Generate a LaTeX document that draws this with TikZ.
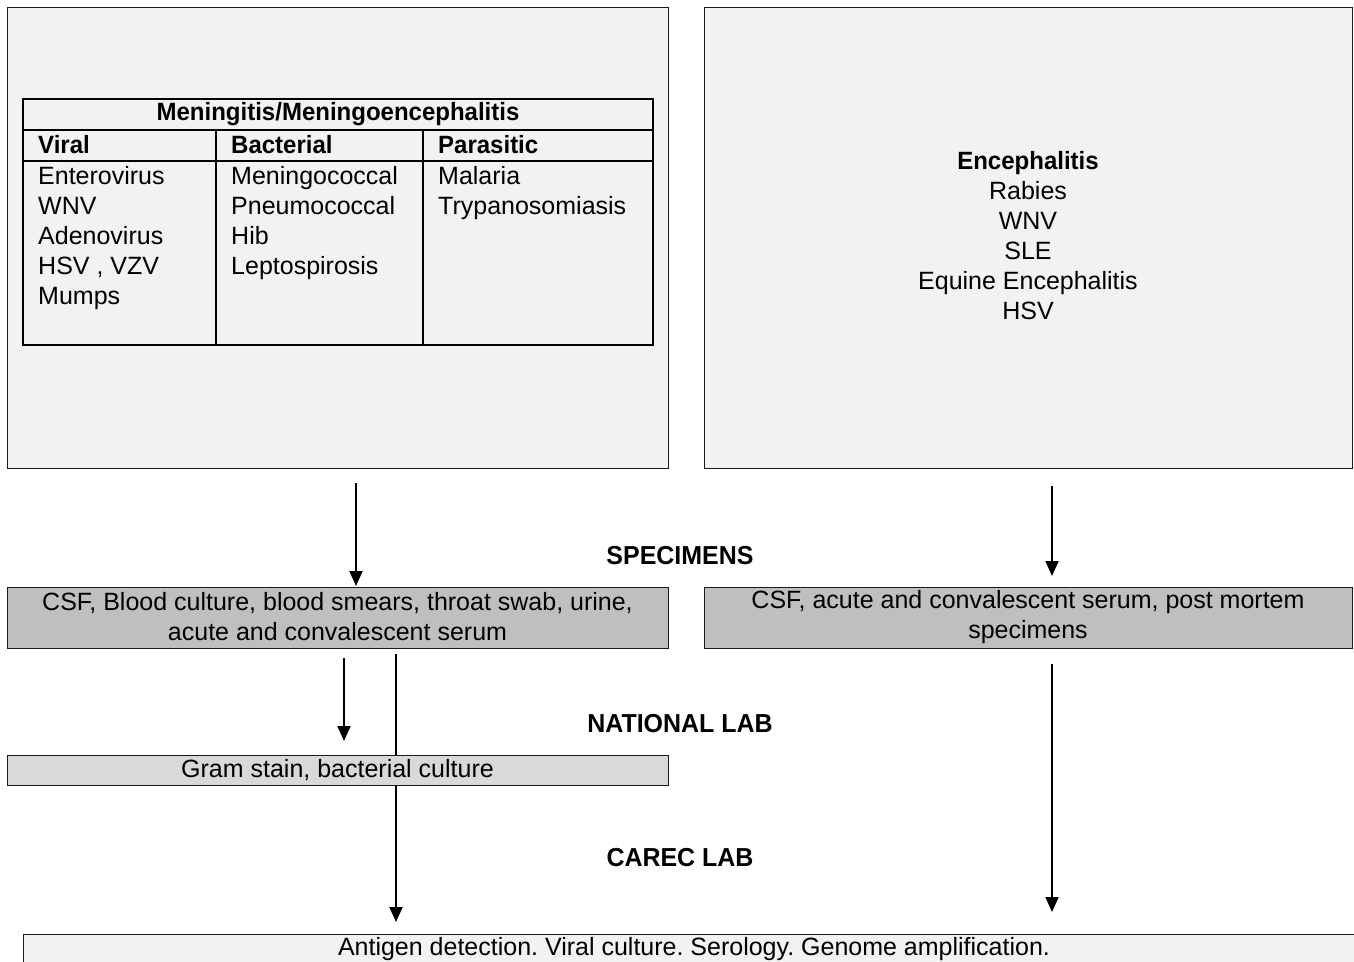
\documentclass[tikz,border=0pt]{standalone}
\usepackage{fontspec}
\setmainfont{Liberation Sans}[BoldFeatures={FakeStretch=0.96}]
\frenchspacing
\usetikzlibrary{arrows.meta}
\definecolor{panelfill}{HTML}{F2F2F2}
\definecolor{specfill}{HTML}{BFBFBF}
\definecolor{natfill}{HTML}{D9D9D9}
\definecolor{edge}{HTML}{1A1A1A}

\begin{document}
\begin{tikzpicture}[x=1pt,y=-1pt,
  panel/.style={draw=edge, line width=1pt, inner sep=0pt, anchor=north west},
  body/.style={font=\fontsize{25}{30}\selectfont, inner sep=0pt},
  head/.style={font=\fontsize{25}{30}\selectfont\bfseries, inner sep=0pt},
  stage/.style={font=\fontsize{26}{30}\selectfont\bfseries, inner sep=0pt},
  cell/.style={body, align=left},
  grid/.style={line width=2pt, black},
  arr/.style={line width=2pt, -{Triangle[width=13pt,length=15pt]}}]

\useasboundingbox (0,0) rectangle (1354,961);
\clip (0,0) rectangle (1354,961);
\fill[white] (0,0) rectangle (1354,961);

% ---- upper panels ----
\node[panel, fill=panelfill, minimum width=661pt, minimum height=461pt] (menbox) at (7,7) {};
\node[panel, fill=panelfill, minimum width=648pt, minimum height=461pt] (encbox) at (704,7) {};

% table of meningitis agents
\draw[grid] (23,99) rectangle (653,345);
\draw[grid] (23,130) -- (653,130);
\draw[grid] (23,161) -- (653,161);
\draw[grid] (216,130) -- (216,345);
\draw[grid] (423,130) -- (423,345);

\node[head] (ttl) at (338,114) {Meningitis/Meningoencephalitis};
\node[head, anchor=west] (hv) at (38,145) {Viral};
\node[head, anchor=west] (hb) at (231,145) {Bacterial};
\node[head, anchor=west] (hp) at (438,145) {Parasitic};

\node[cell, anchor=north west] (colv) at (38,166) {Enterovirus\\WNV\\Adenovirus\\HSV , VZV\\Mumps};
\node[cell, anchor=north west] (colb) at (231,166) {Meningococcal\\Pneumococcal\\Hib\\Leptospirosis};
\node[cell, anchor=north west] (colp) at (438,166) {Malaria\\Trypanosomiasis};

% encephalitis list
\node[body, align=center] (enc) at (1028,236)
  {\textbf{Encephalitis}\\Rabies\\WNV\\SLE\\Equine Encephalitis\\HSV};

% ---- stage labels ----
\node[stage] (lspec) at (680,556) {SPECIMENS};
\node[stage] (lnat) at (680,724) {NATIONAL LAB};
\node[stage] (lcarec) at (680,858) {CAREC LAB};

% ---- specimen boxes ----
\node[panel, fill=specfill, minimum width=661pt, minimum height=61pt] (specL) at (7,587) {};
\node[body, align=center] (specLt) at (337.5,617) {CSF, Blood culture, blood smears, throat swab, urine,\\acute and convalescent serum};
\node[panel, fill=specfill, minimum width=648pt, minimum height=61pt] (specR) at (704,587) {};
\node[body, align=center] (specRt) at (1028,617) {CSF, acute and convalescent serum, post mortem\\specimens};

% ---- result box ----
\node[panel, fill=panelfill, minimum width=1342pt, minimum height=40pt] (res) at (23,934) {};
\node[body] (rest) at (694,949) {Antigen detection. Viral culture. Serology. Genome amplification.};

% column positions of the connectors
\coordinate (c1) at (356,0);
\coordinate (c2) at (1052,0);
\coordinate (c3) at (344,0);
\coordinate (c4) at (396,0);

% long connector runs under the national lab box
\draw[arr, shorten <=5pt, shorten >=12pt] (specL.south -| c4) -- (res.north -| c4);

% ---- national lab box ----
\node[panel, fill=natfill, minimum width=661pt, minimum height=30pt] (nat) at (7,755) {};
\node[body] (natt) at (337.5,770) {Gram stain, bacterial culture};

% ---- connectors ----
\draw[arr, shorten <=14pt, shorten >=1pt] (menbox.south -| c1) -- (specL.north -| c1);
\draw[arr, shorten <=17pt, shorten >=11pt] (encbox.south -| c2) -- (specR.north -| c2);
\draw[arr, shorten <=9pt, shorten >=14pt] (specL.south -| c3) -- (nat.north -| c3);
\draw[arr, shorten <=15pt, shorten >=22pt] (specR.south -| c2) -- (res.north -| c2);

\end{tikzpicture}
\end{document}
